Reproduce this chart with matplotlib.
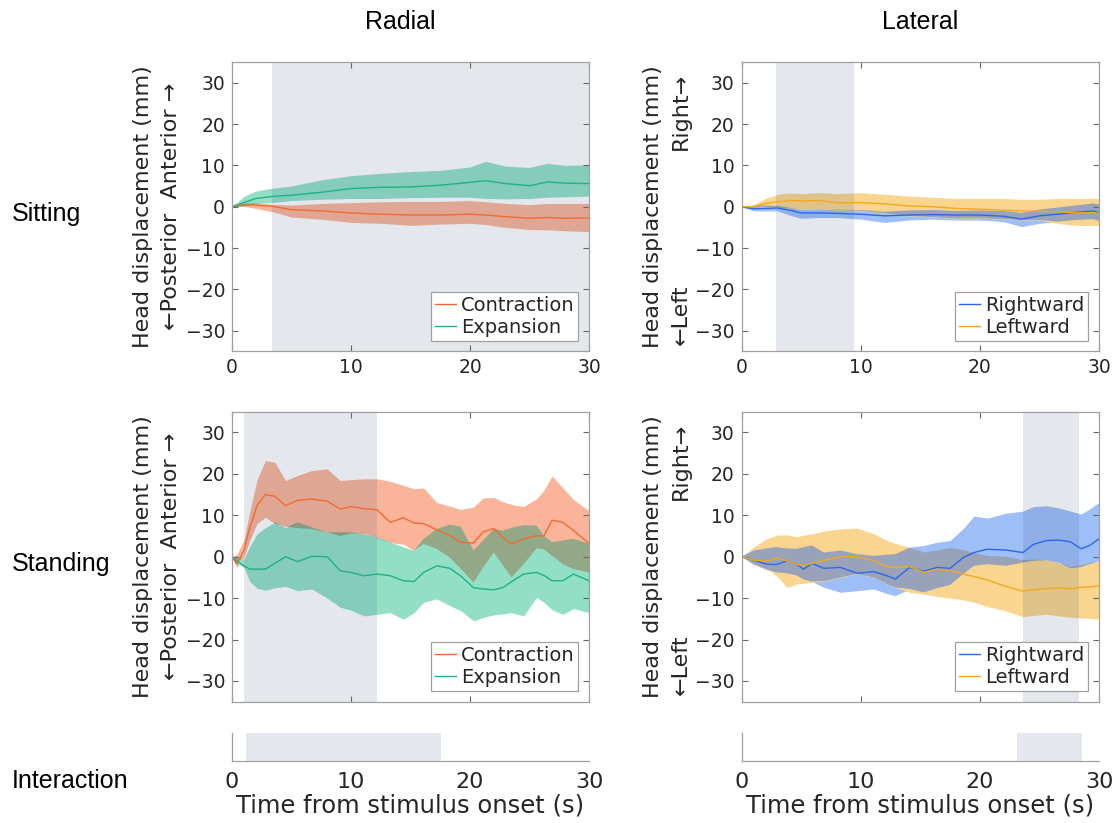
import numpy as np
import matplotlib
matplotlib.use('Agg')
import matplotlib.pyplot as plt

plt.rcParams['font.family'] = ['DejaVu Sans']

# ---------------- data ----------------
# Sitting / Radial
tA = [0, 1, 2, 3.4, 5, 7.5, 10, 12.5, 15, 17.5, 20, 21.3, 23, 25, 26.5, 28, 30]
A_con_mean = [0, 0.5, 0.4, 0.1, -0.7, -1.0, -1.5, -1.8, -2.0, -2.0, -1.8, -2.0, -2.4, -2.8, -2.6, -2.8, -2.7]
A_con_hi = [0, 0.9, 1.0, 0.6, 0.4, 0.8, 1.0, 1.2, 1.3, 1.3, 1.5, 1.2, 0.8, 0.5, 0.8, 0.8, 0.8]
A_con_lo = [0, 0.1, -0.4, -1.2, -2.5, -3.0, -3.8, -4.0, -4.5, -4.2, -4.0, -4.3, -5.0, -5.5, -5.6, -5.8, -6.0]
A_exp_mean = [0, 1.0, 2.0, 2.5, 2.8, 3.5, 4.4, 4.7, 4.8, 5.2, 5.9, 6.3, 5.6, 5.1, 6.0, 5.7, 5.6]
A_exp_hi = [0, 2.5, 3.8, 4.5, 5.0, 6.5, 7.5, 8.1, 8.5, 8.8, 9.6, 11.0, 9.8, 9.5, 10.5, 10.0, 10.2]
A_exp_lo = [0, 0.2, 0.8, 1.0, 1.5, 1.8, 2.0, 2.0, 2.2, 2.3, 2.3, 2.0, 1.9, 2.0, 2.3, 2.4, 2.6]
A_shade = (3.35, 30)

# Sitting / Lateral
tB = [0, 1, 2, 3, 4, 5, 6.5, 8, 10, 12, 14, 16, 18, 20, 22, 23.5, 25, 26.5, 28, 29.5, 30]
B_rw_mean = [0, -0.5, -0.4, -0.3, -0.8, -1.5, -1.5, -1.6, -1.8, -2.2, -2.0, -1.9, -2.0, -2.0, -2.3, -3.0, -2.2, -1.8, -1.4, -1.0, -1.5]
B_rw_hi = [0, 0.2, 0.3, 0.2, -0.2, -0.6, -0.5, -0.7, -0.8, -1.2, -0.9, -0.8, -1.0, -0.9, -1.0, -1.5, -0.7, -0.2, 0.3, 0.8, 0.5]
B_rw_lo = [0, -1.0, -1.0, -1.0, -2.0, -2.8, -2.6, -2.6, -3.0, -3.8, -3.2, -3.0, -3.2, -3.2, -3.6, -4.8, -4.0, -3.6, -3.2, -3.0, -3.4]
B_lw_mean = [0, 0, 0.8, 1.2, 1.5, 1.4, 1.5, 1.0, 1.0, 0.7, 0.2, 0, -0.4, -0.6, -0.8, -1.0, -1.1, -1.2, -1.5, -1.4, -1.6]
B_lw_hi = [0, 0.5, 2.0, 3.0, 3.3, 3.2, 3.4, 3.2, 3.4, 3.0, 2.6, 2.3, 2.0, 2.0, 2.0, 1.8, 1.8, 2.0, 2.0, 2.0, 2.0]
B_lw_lo = [0, -0.3, 0.0, -0.2, -0.4, -0.5, -0.4, -0.8, -1.0, -1.6, -2.2, -2.5, -2.8, -2.8, -3.0, -3.2, -3.2, -4.0, -4.5, -4.5, -4.5]
B_shade = (2.9, 9.4)

# Standing / Radial
tC = [0, 0.4, 1, 1.5, 2.1, 2.8, 3.6, 4.5, 5.5, 6.7, 8, 9.1, 10, 11.1, 12.2, 13.3, 14.4,
      15.3, 16.1, 17.2, 18.3, 19.2, 20.3, 21.1, 22, 22.8, 23.5, 24.5, 25.6, 26.2, 26.9, 27.8, 28.7, 30]
C_con_mean = [0, -1.8, 1.5, 7.0, 12.3, 15.0, 14.6, 12.3, 13.6, 13.9, 13.4, 11.5, 12.1, 11.6, 11.3, 8.3, 9.4,
              8.1, 8.0, 6.5, 5.1, 3.5, 3.3, 6.0, 6.8, 4.5, 3.0, 4.3, 5.1, 5.0, 8.8, 8.3, 6.3, 3.2]
C_con_hi = [0, 0.5, 4.0, 11.0, 18.5, 23.2, 22.8, 18.4, 19.6, 20.8, 21.2, 18.4, 18.6, 18.8, 18.8, 18.2, 17.2,
            16.4, 16.6, 13.1, 12.2, 11.4, 12.0, 14.2, 14.3, 13.2, 12.6, 12.1, 14.0, 16.0, 19.5, 16.6, 13.8, 11.1]
C_con_lo = [0, -2.6, -0.2, 4.0, 8.0, 9.5, 8.0, 7.3, 6.9, 6.7, 5.9, 5.0, 5.6, 5.6, 4.6, 3.4, 3.0,
            1.5, 3.1, 1.9, -0.2, -2.8, -6.2, -2.6, 1.0, -2.2, -5.0, -1.8, 2.0, 1.8, 0.2, -1.8, -3.0, -3.8]
C_exp_mean = [0, -1.0, -2.2, -3.0, -3.0, -3.0, -1.6, 0, -1.2, 0.1, 0, -3.4, -3.8, -4.6, -4.2, -4.6, -5.8,
              -6.0, -3.8, -2.2, -2.8, -4.6, -7.5, -7.8, -8.0, -7.4, -6.0, -4.2, -3.8, -4.5, -5.8, -5.8, -4.2, -5.8]
C_exp_hi = [0, 0, -0.6, 2.5, 5.5, 7.0, 8.3, 7.0, 8.3, 7.1, 5.9, 5.9, 5.9, 5.5, 4.7, 3.5, 2.4,
            1.5, 4.3, 6.7, 7.7, 7.3, 1.5, 3.9, 6.7, 6.3, 7.0, 7.6, 7.5, 5.0, 3.5, 3.9, 4.3, 3.1]
C_exp_lo = [0, -1.5, -2.6, -6.0, -7.6, -8.1, -7.5, -7.2, -8.2, -7.8, -10.0, -12.2, -12.9, -14.3, -13.9, -13.5, -15.1,
            -13.5, -11.0, -10.2, -11.8, -13.0, -15.5, -14.7, -14.0, -13.8, -13.5, -14.3, -9.8, -11.0, -12.8, -13.9, -12.5, -13.5]
C_shade = (1.05, 12.2)

# Standing / Lateral
tD = [0, 1, 2.1, 2.9, 3.8, 4.6, 5.2, 5.9, 6.9, 8.3, 9.7, 11.1, 12.2, 12.9, 14.1, 15.3, 16.4, 17.5,
      18.6, 19.5, 20.6, 22.2, 23.6, 24.5, 25.6, 26.6, 27.6, 28.5, 29.2, 30]
D_rw_mean = [0, -0.8, -1.8, -1.9, -1.0, -1.8, -3.0, -1.6, -2.8, -2.6, -4.0, -3.6, -4.6, -5.4, -2.6, -3.5, -2.6, -2.8,
             -0.2, 1.0, 1.8, 1.6, 1.0, 3.0, 3.9, 4.0, 3.6, 1.9, 2.7, 4.3]
D_rw_hi = [0, 1.5, 2.0, 2.3, 2.0, 1.9, 2.3, 2.7, 1.0, 1.5, 0.6, 0.2, 0.5, 0.6, 2.3, 2.7, 3.5, 3.9,
           6.8, 9.8, 9.3, 10.5, 11.0, 12.1, 12.3, 11.8, 11.0, 10.3, 11.5, 13.1]
D_rw_lo = [0, -1.8, -3.2, -3.8, -4.0, -4.5, -5.5, -6.0, -7.4, -8.6, -8.2, -7.8, -8.9, -9.4, -7.8, -8.6, -7.6, -6.8,
           -4.2, -2.2, -1.8, -2.2, -1.4, -1.0, -0.8, -1.4, -2.8, -2.5, -1.8, -1.0]
D_lw_mean = [0, -0.8, -1.1, -0.3, -1.0, -1.8, -2.2, -1.6, -0.9, 0, 0, -1.0, -2.4, -2.6, -2.4, -3.8, -3.0, -3.4,
             -4.2, -4.8, -5.6, -7.2, -8.3, -8.0, -7.7, -7.5, -7.8, -7.4, -7.3, -7.0]
D_lw_hi = [0, 2.3, 4.3, 5.2, 5.3, 4.8, 5.2, 5.5, 6.2, 6.7, 6.9, 5.5, 3.9, 3.2, 2.2, 1.0, 1.5, 2.1,
           1.6, 0.9, 0.2, 0, -0.8, -0.7, -0.8, -1.5, -2.5, -2.0, -1.5, -1.1]
D_lw_lo = [0, -1.8, -3.0, -4.5, -7.4, -6.6, -6.4, -6.2, -5.9, -5.0, -4.2, -5.0, -6.6, -7.4, -8.6, -9.0, -9.6, -10.0,
           -10.4, -11.0, -12.0, -13.1, -14.5, -14.2, -13.9, -14.3, -14.6, -14.8, -14.9, -15.1]
D_shade = (23.6, 28.3)

# Interaction strips
E_shade = (1.15, 17.55)
F_shade = (23.1, 28.6)

yticks = [-30, -20, -10, 0, 10, 20, 30]
xticks = [0, 10, 20, 30]

# ---------------- style ----------------
CON, CON_B = '#F26A2E', '#F9B49A'
EXP, EXP_B = '#1DB384', '#93DFC6'
RW, RW_B = '#2B67EE', '#9EBEF8'
LW, LW_B = '#F3A81E', '#F9D58F'
OV_RAD = '#93A886'
OV_LAT = '#98A2B8'
SHADE = (40 / 255, 70 / 255, 100 / 255)
SPINE = '#A0A0A0'
TXT = '#262626'

W, H = 1117, 823


def rect(l, t, r, b):
    return [l / W, 1 - b / H, (r - l) / W, (b - t) / H]


fig = plt.figure(figsize=(W / 100, H / 100), dpi=100)

axA = fig.add_axes(rect(232, 62, 589, 351.5))
axB = fig.add_axes(rect(741.7, 62, 1099, 351.5))
axC = fig.add_axes(rect(232, 411.7, 589, 701.7))
axD = fig.add_axes(rect(741.7, 411.7, 1099, 701.7))
axE = fig.add_axes(rect(232, 733, 589, 761.3))
axF = fig.add_axes(rect(741.7, 733, 1099, 761.3))


def panel(ax, t, s1, s2, shade, ov, show_x):
    t = np.asarray(t)
    (m1, h1, l1, c1, b1, n1) = s1
    (m2, h2, l2, c2, b2, n2) = s2
    h1, l1, h2, l2 = map(np.asarray, (h1, l1, h2, l2))
    ax.fill_between(t, l1, h1, color=b1, lw=0, zorder=1)
    ax.fill_between(t, l2, h2, color=b2, lw=0, zorder=1.1)
    lo = np.maximum(l1, l2)
    hi = np.minimum(h1, h2)
    ax.fill_between(t, lo, hi, where=hi > lo, interpolate=True, color=ov, lw=0, zorder=1.2)
    ax.axvspan(shade[0], shade[1], color=SHADE, alpha=0.12, lw=0, zorder=1.5)
    ax.plot(t, m1, color=c1, lw=1.0, zorder=2, label=n1)
    ax.plot(t, m2, color=c2, lw=1.0, zorder=2, label=n2)
    ax.set_xlim(0, 30)
    ax.set_ylim(-35, 35)
    ax.set_xticks(xticks)
    ax.set_yticks(yticks)
    ax.set_yticklabels(['\u221230', '\u221220', '\u221210', '0', '10', '20', '30'])
    ax.tick_params(direction='in', top=True, right=True, length=4, width=0.8,
                   color='#666666', labelsize=13.5, labelcolor=TXT, pad=5,
                   labelbottom=show_x)
    for s in ax.spines.values():
        s.set_color(SPINE)
        s.set_linewidth(0.9)
    leg = ax.legend(loc='lower right', fontsize=14, frameon=True, fancybox=False,
                    edgecolor=SPINE, framealpha=1, handlelength=1.1, handletextpad=0.25,
                    labelspacing=0.15, borderpad=0.2, borderaxespad=0.55)
    leg.get_frame().set_linewidth(0.9)
    for tx in leg.get_texts():
        tx.set_color(TXT)


panel(axA, tA, (A_con_mean, A_con_hi, A_con_lo, CON, CON_B, 'Contraction'),
      (A_exp_mean, A_exp_hi, A_exp_lo, EXP, EXP_B, 'Expansion'), A_shade, OV_RAD, True)
panel(axB, tB, (B_rw_mean, B_rw_hi, B_rw_lo, RW, RW_B, 'Rightward'),
      (B_lw_mean, B_lw_hi, B_lw_lo, LW, LW_B, 'Leftward'), B_shade, OV_LAT, True)
panel(axC, tC, (C_con_mean, C_con_hi, C_con_lo, CON, CON_B, 'Contraction'),
      (C_exp_mean, C_exp_hi, C_exp_lo, EXP, EXP_B, 'Expansion'), C_shade, OV_RAD, False)
panel(axD, tD, (D_rw_mean, D_rw_hi, D_rw_lo, RW, RW_B, 'Rightward'),
      (D_lw_mean, D_lw_hi, D_lw_lo, LW, LW_B, 'Leftward'), D_shade, OV_LAT, False)

# y labels
for ax, radial in ((axA, True), (axC, True), (axB, False), (axD, False)):
    ax.text(-0.249, 0.5, 'Head displacement (mm)', rotation=90, transform=ax.transAxes,
            ha='center', va='center', fontsize=16, color=TXT)
    if radial:
        ax.text(-0.171, 0.5, '\u2190Posterior  Anterior \u2192', rotation=90, transform=ax.transAxes,
                ha='center', va='center', fontsize=16, color=TXT)
    else:
        ax.text(-0.171, 0.022, '\u2190Left', rotation=90, transform=ax.transAxes,
                ha='center', va='bottom', fontsize=16, color=TXT)
        ax.text(-0.171, 0.962, 'Right\u2192', rotation=90, transform=ax.transAxes,
                ha='center', va='top', fontsize=16, color=TXT)

# interaction strips
for ax, sh in ((axE, E_shade), (axF, F_shade)):
    ax.axvspan(sh[0], sh[1], color=SHADE, alpha=0.12, lw=0)
    ax.set_xlim(0, 30)
    ax.set_ylim(0, 1)
    ax.set_yticks([])
    ax.set_xticks(xticks)
    ax.tick_params(length=0, labelsize=16, labelcolor=TXT, pad=8)
    ax.spines['top'].set_visible(False)
    ax.spines['right'].set_visible(False)
    for s in ('left', 'bottom'):
        ax.spines[s].set_color(SPINE)
        ax.spines[s].set_linewidth(0.9)
    ax.set_xlabel('Time from stimulus onset (s)', fontsize=17.5, color=TXT, labelpad=1)

# titles and row labels
fig.text(400 / W, 1 - 22 / H, 'Radial', ha='center', va='center', fontsize=18,
         family=['Liberation Sans', 'DejaVu Sans'], color='black')
fig.text(920 / W, 1 - 22 / H, 'Lateral', ha='center', va='center', fontsize=18,
         family=['Liberation Sans', 'DejaVu Sans'], color='black')
for label, yp in (('Sitting', 214), ('Standing', 564), ('Interaction', 781)):
    fig.text(12 / W, 1 - yp / H, label, ha='left', va='center', fontsize=18,
             family=['Liberation Sans', 'DejaVu Sans'], color='black')

fig.savefig('out.png', dpi=100)
